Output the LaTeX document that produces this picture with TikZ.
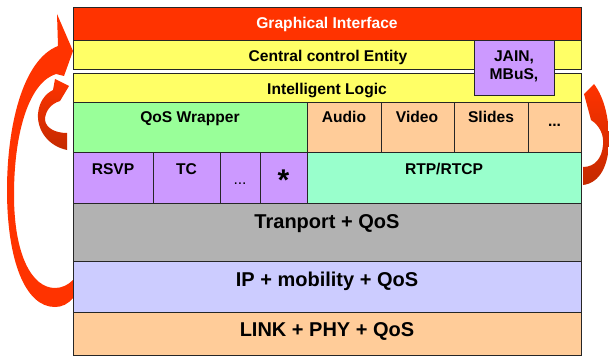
\documentclass[tikz,border=0pt]{standalone}
\usepackage{fontspec}
\setmainfont{Liberation Sans}
\definecolor{gired}{HTML}{FF3300}
\definecolor{ccyellow}{HTML}{FFFF66}
\definecolor{qosgreen}{HTML}{99FF99}
\definecolor{peach}{HTML}{FFCC99}
\definecolor{lilac}{HTML}{CC99FF}
\definecolor{mint}{HTML}{99FFCC}
\definecolor{tgray}{HTML}{B2B2B2}
\definecolor{lavender}{HTML}{CCCCFF}
\definecolor{arrred}{HTML}{FF3300}
\definecolor{arrdark}{HTML}{C42A00}
\tikzset{
  cell/.style={draw=black!85, line width=0.9pt},
  lbl/.style={font=\fontsize{15.6}{18}\selectfont\bfseries, anchor=base, inner sep=0pt},
  biglbl/.style={font=\fontsize{20}{24}\selectfont\bfseries, anchor=base, inner sep=0pt},
  bigarrow/.style={fill=arrred, draw=none},
  shadearrow/.style={draw=none, top color=arrred, middle color=arrred, bottom color=arrdark}
}
\begin{document}
\begin{tikzpicture}[x=1pt, y=-1pt]
\useasboundingbox (0,0) rectangle (609,358);
% arrows
\path[bigarrow] (73,298) .. controls (68,304) and (62,307) .. (55,307)
  .. controls (25,307) and (7,260) .. (7,190)
  .. controls (7,128) and (22,60) .. (58,46)
  -- (57,14) -- (73,51) -- (64,76) -- (56,74)
  .. controls (30,82) and (14,130) .. (14,195)
  .. controls (14,255) and (32,288) .. (55,288)
  .. controls (62,288) and (68,285) .. (73,280) -- cycle;
\path[shadearrow] (67,150) .. controls (48,146) and (37,130) .. (38,114)
  .. controls (39,102) and (45,94) .. (53,90)
  -- (55,79) -- (69,86) -- (60,101)
  .. controls (50,104) and (45,112) .. (45,120)
  .. controls (46,128) and (55,133) .. (67,133) -- cycle;
\path[shadearrow] (583,185) .. controls (600,183) and (609,165) .. (609,140)
  .. controls (609,115) and (603,96) .. (594,84)
  -- (584,94) -- (591,120)
  .. controls (600,126) and (604,135) .. (603,145)
  .. controls (602,158) and (595,167) .. (583,167) -- cycle;
% layers
\draw[cell, fill=gired] (73,7) rectangle (581,40);
\draw[cell, fill=ccyellow] (73,40) rectangle (581,69);
\draw[cell, fill=ccyellow] (73,73) rectangle (581,102);
\draw[cell, fill=qosgreen] (73,102) rectangle (307,152);
\draw[cell, fill=peach] (307,102) rectangle (381,152);
\draw[cell, fill=peach] (381,102) rectangle (454,152);
\draw[cell, fill=peach] (454,102) rectangle (528,152);
\draw[cell, fill=peach] (528,102) rectangle (581,152);
\draw[cell, fill=lilac] (73,152) rectangle (153,203);
\draw[cell, fill=lilac] (153,152) rectangle (220,203);
\draw[cell, fill=lilac] (220,152) rectangle (260,203);
\draw[cell, fill=lilac] (260,152) rectangle (307,203);
\draw[cell, fill=mint] (307,152) rectangle (581,203);
\draw[cell, fill=tgray] (73,203) rectangle (581,261);
\draw[cell, fill=lavender] (73,261) rectangle (581,312);
\draw[cell, fill=peach] (73,312) rectangle (581,355);
\draw[cell, fill=lilac] (474,40) rectangle (554,95);
% labels
\node[lbl, text=white] (gi) at (327,29) {Graphical Interface};
\node[lbl] (cce) at (328,62) {Central control Entity};
\node[lbl] (il) at (327,95) {Intelligent Logic};
\node[lbl] (jain) at (514,62) {JAIN,};
\node[lbl] (mbus) at (514,80) {MBuS,};
\node[lbl] (qw) at (190,123) {QoS Wrapper};
\node[lbl] (audio) at (344,123) {Audio};
\node[lbl] (video) at (417,123) {Video};
\node[lbl] (slides) at (491,123) {Slides};
\node[lbl] (dots1) at (554.5,127) {...};
\node[lbl] (rsvp) at (113,174) {RSVP};
\node[lbl] (tc) at (186.5,174) {TC};
\node[lbl, font=\fontsize{15.6}{18}\selectfont] (dots2) at (240,184) {...};
\node[lbl, font=\fontsize{30}{32}\selectfont\bfseries] (star) at (283.5,190) {*};
\node[lbl] (rtp) at (444,174) {RTP/RTCP};
\node[biglbl] (tr) at (327,228) {Tranport + QoS};
\node[biglbl] (ip) at (327,286) {IP + mobility + QoS};
\node[biglbl] (link) at (327,336) {LINK + PHY + QoS};
\end{tikzpicture}
\end{document}
